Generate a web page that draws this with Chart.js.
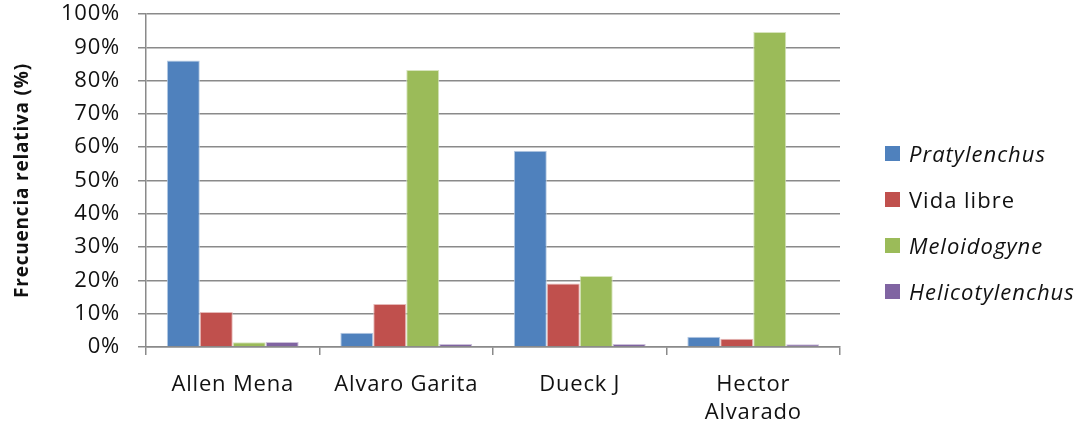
<!DOCTYPE html>
<html lang="es">
<head>
    <meta charset="UTF-8">
    <title>Frecuencia relativa</title>
    <script src="https://cdn.jsdelivr.net/npm/chart.js"></script>
    <style>
        html, body { margin: 0; padding: 0; background: #fff; }
        .wrap { position: relative; width: 1088px; height: 435px; }
        #legend {
            position: absolute; left: 885px; top: 130px;
            font-family: "Open Sans", sans-serif; font-size: 22px; color: #111; letter-spacing: 1px;
        }
        .item { display: flex; align-items: center; height: 46px; }
        .box { width: 15px; height: 15px; margin-right: 9px; }
    </style>
</head>
<body>
    <div class="wrap">
        <canvas id="chart" width="1088" height="435"></canvas>
        <div id="legend"></div>
    </div>

    <script>
        const categories = ['Allen Mena', 'Alvaro Garita', 'Dueck J', ['Hector', 'Alvarado']];
        const seriesNames = ['Pratylenchus', 'Vida libre', 'Meloidogyne', 'Helicotylenchus'];
        const italicSeries = [true, false, true, true];
        const pratylenchus = [86, 4.3, 58.9, 3.1];
        const vidaLibre = [10.5, 12.9, 19.1, 2.5];
        const meloidogyne = [1.4, 83.2, 21.3, 94.6];
        const helicotylenchus = [1.5, 0.9, 0.9, 0.8];
        const yTicks = [0, 10, 20, 30, 40, 50, 60, 70, 80, 90, 100];

        const colors = ['#4F81BD', '#C0504D', '#9BBB59', '#8064A2'];
        const edges = ['#b8cce4', '#e6b9b8', '#d7e4bd', '#ccc1da'];
        const font = "'Open Sans', sans-serif";
        const gray = '#8a8a8a';

        const values = [pratylenchus, vidaLibre, meloidogyne, helicotylenchus];
        const datasets = seriesNames.map((name, i) => ({
            label: name,
            data: values[i],
            backgroundColor: colors[i],
            borderColor: edges[i],
            borderWidth: 1,
            categoryPercentage: 0.76,
            barPercentage: 1.0
        }));

        // Excel-ish wide text spacing
        const spacing = {
            id: 'spacing',
            beforeDraw: chart => { chart.ctx.letterSpacing = '0.8px'; }
        };

        new Chart(document.getElementById('chart'), {
            type: 'bar',
            data: { labels: categories, datasets: datasets },
            plugins: [spacing],
            options: {
                responsive: false,
                animation: false,
                layout: { padding: { top: 14, right: 248, left: 0, bottom: 0 } },
                plugins: { legend: { display: false }, tooltip: { enabled: false } },
                scales: {
                    x: {
                        afterFit: s => { s.height = 88; s.paddingLeft = 0; s.paddingRight = 0; },
                        grid: { display: true, drawOnChartArea: false, drawTicks: true, tickLength: 8, color: gray, lineWidth: 1.5 },
                        border: { display: true, color: gray, width: 1.5 },
                        ticks: { color: '#111', font: { family: font, size: 22, lineHeight: 1.3 }, padding: 15, maxRotation: 0 }
                    },
                    y: {
                        min: 0, max: 100,
                        afterFit: s => { s.width = 146; s.paddingTop = 0; s.paddingBottom = 0; },
                        afterBuildTicks: s => { s.ticks = yTicks.map(v => ({ value: v })); },
                        grid: { color: gray, lineWidth: 1.5, tickLength: 8 },
                        border: { display: true, color: gray, width: 1.5 },
                        ticks: { color: '#111', font: { family: font, size: 22 }, padding: 18, callback: v => v + '%' },
                        title: {
                            display: true, text: 'Frecuencia relativa (%)', color: '#111',
                            font: { family: font, size: 19, weight: 'bold' }, padding: { top: 11, bottom: 0 }
                        }
                    }
                }
            }
        });

        // legend with italic genus names
        const legend = document.getElementById('legend');
        seriesNames.forEach((name, i) => {
            const row = document.createElement('div');
            row.className = 'item';
            row.innerHTML = '<span class="box" style="background:' + colors[i] + '"></span>' +
                '<span style="font-style:' + (italicSeries[i] ? 'italic' : 'normal') + '">' + name + '</span>';
            legend.appendChild(row);
        });
    </script>
</body>
</html>
